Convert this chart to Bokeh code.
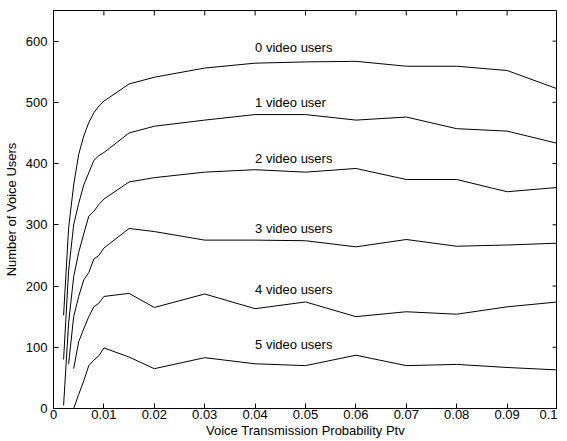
import math
from bokeh.plotting import figure
from bokeh.models import Range1d, FixedTicker, ColumnDataSource
from bokeh.core.properties import value
from bokeh.embed import file_html
from bokeh.resources import INLINE

# ---- data ----
x_all = [0.002, 0.003, 0.004, 0.005, 0.006, 0.007, 0.008, 0.009, 0.01,
         0.015, 0.02, 0.03, 0.04, 0.05, 0.06, 0.07, 0.08, 0.09, 0.1]

users0 = [152, 295, 365, 415, 445, 467, 483, 494, 502, 530, 541, 556, 564, 566, 567, 559, 559, 552, 522]
users1 = [80, 225, 300, 335, 365, 385, 405, 413, 418, 450, 461, 471, 480, 480, 471, 476, 457, 453, 433]
users2 = [5, 140, 215, 255, 285, 314, 322, 333, 342, 370, 377, 386, 390, 386, 392, 374, 374, 354, 361]
users3 = [73, 150, 183, 210, 222, 244, 250, 262, 294, 289, 275, 275, 274, 264, 276, 265, 267, 270]
users4 = [65, 109, 130, 150, 166, 172, 183, 188, 165, 187, 163, 174, 150, 158, 154, 166, 174]
users5 = [0, 23, 45, 70, 79, 86, 99, 84, 65, 83, 73, 70, 87, 70, 72, 67, 63]

series = [users0, users1, users2, users3, users4, users5]

label_texts = ["0 video users", "1 video user", "2 video users",
               "3 video users", "4 video users", "5 video users"]
label_values = [590, 500, 409, 294, 194, 104]
label_x = 0.04

x_ticks = [0, 0.01, 0.02, 0.03, 0.04, 0.05, 0.06, 0.07, 0.08, 0.09, 0.1]
x_tick_labels = ["0", "0.01", "0.02", "0.03", "0.04", "0.05", "0.06", "0.07", "0.08", "0.09", "0.1"]
y_ticks = [0, 100, 200, 300, 400, 500, 600]

FONT = "Liberation Sans"
X_MIN, X_MAX = 0, 0.1
Y_MIN, Y_MAX = 0, 650

p = figure(width=557, height=440, output_backend="svg", toolbar_location=None,
           x_range=Range1d(X_MIN, X_MAX), y_range=Range1d(Y_MIN, Y_MAX),
           min_border_left=0, min_border_right=0, min_border_top=10, min_border_bottom=0,
           x_axis_label="Voice Transmission Probability Ptv",
           y_axis_label="Number of Voice Users")
p.grid.visible = False
p.outline_line_color = "black"
p.outline_line_width = 1
p.background_fill_color = "white"
p.border_fill_color = "white"

def style_axis(ax, ticks):
    ax.ticker = FixedTicker(ticks=ticks)
    ax.major_tick_in = 5
    ax.major_tick_out = 0
    ax.minor_tick_in = 0
    ax.minor_tick_out = 0
    ax.axis_line_color = "black"
    ax.major_tick_line_color = "black"
    ax.major_label_text_font = FONT
    ax.major_label_text_font_size = "13px"
    ax.major_label_text_color = "black"
    ax.axis_label_text_font = FONT
    ax.axis_label_text_font_size = "13px"
    ax.axis_label_text_font_style = "normal"
    ax.axis_label_text_color = "black"

xa = p.xaxis[0]
style_axis(xa, x_ticks)
xa.major_label_overrides = {t: l for t, l in zip(x_ticks, x_tick_labels)}
xa.major_label_standoff = 1
xa.axis_label_standoff = 1

ya = p.yaxis[0]
style_axis(ya, y_ticks)
ya.major_label_standoff = 6
ya.axis_label_standoff = 4

# inward ticks on the top and right frame edges (clipped to the frame)
p.scatter(x=x_ticks, y=[Y_MAX] * len(x_ticks), marker="dash", size=10,
          angle=math.pi / 2, line_color="black", line_width=1)
p.scatter(x=[X_MAX] * len(y_ticks), y=y_ticks, marker="dash", size=10,
          line_color="black", line_width=1)

for ys in series:
    xs = x_all[len(x_all) - len(ys):]
    p.line(x=xs, y=ys, line_color="black", line_width=1)

src = ColumnDataSource(dict(x=[label_x] * len(label_texts), y=label_values, text=label_texts))
p.text(x="x", y="y", text="text", source=src, text_font=value(FONT),
       text_font_size="13px", text_baseline="middle", text_align="left", text_color="black")

open("out.html", "w").write(file_html(p, INLINE))
